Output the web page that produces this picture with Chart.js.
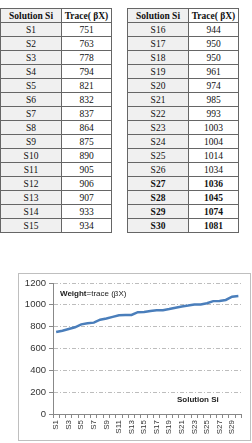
<!DOCTYPE html>
<html>
<head>
<meta charset="utf-8">
<script src="https://cdn.jsdelivr.net/npm/chart.js@4/dist/chart.umd.min.js"></script>
<style>
  body { margin: 0; width: 252px; height: 443px; background: #fff; position: relative; overflow: hidden; }
  table { position: absolute; top: 8px; border-collapse: collapse; font-family: "Liberation Serif", serif; font-size: 9.5px; color: #111; }
  td, th { border: 1px solid #666; height: 13px; padding: 0; text-align: center; line-height: 12px; }
  th { font-weight: bold; }
  .c1 { background: #f0f0f0; }
  .b { font-weight: bold; }
  #frame { position: absolute; left: 18px; top: 273px; width: 231px; height: 166px; border: 1px solid #bfbfbf; }
  #wrap { position: absolute; left: 0; top: 0; width: 231px; height: 166px; }
  .note { position: absolute; font-family: "Liberation Sans", sans-serif; font-size: 8px; color: #222; white-space: nowrap; }
</style>
</head>
<body>
<table id="t1" style="left:0px"></table>
<table id="t2" style="left:127px"></table>
<div id="frame">
  <div id="wrap"><canvas id="c"></canvas></div>
  <div class="note" style="left:41px; top:15px"><b>Weight</b>=trace (βX)</div>
  <div class="note" style="left:158px; top:121px"><b>Solution Si</b></div>
</div>
<script>
// valeurs lues dans le tableau
const solutions = ['S1','S2','S3','S4','S5','S6','S7','S8','S9','S10','S11','S12','S13','S14','S15',
                   'S16','S17','S18','S19','S20','S21','S22','S23','S24','S25','S26','S27','S28','S29','S30'];
const traces = [751,763,778,794,821,832,837,864,875,890,905,906,907,933,934,
                944,950,950,961,974,985,993,1003,1004,1014,1034,1036,1045,1074,1081];
const boldRows = ['S27','S28','S29','S30'];
const yTicks = [0,200,400,600,800,1000,1200];

// tableaux
function buildTable(id, from, to) {
    const t = document.getElementById(id);
    let html = '<tr><th class="c1" style="width:60px">Solution Si</th><th style="width:49px">Trace( βX)</th></tr>';
    for (let i = from; i < to; i++) {
        const cls = boldRows.includes(solutions[i]) ? ' b' : '';
        html += '<tr><td class="c1' + cls + '">' + solutions[i] + '</td><td class="' + cls + '">' + traces[i] + '</td></tr>';
    }
    t.innerHTML = html;
}
buildTable('t1', 0, 15);
buildTable('t2', 15, 30);

// graphique
const ctx = document.getElementById('c').getContext('2d');
new Chart(ctx, {
    type: 'line',
    data: {
        labels: solutions,
        datasets: [{
            data: traces,
            borderColor: '#4a7ebb',
            borderWidth: 2.5,
            pointRadius: 0,
            tension: 0
        }]
    },
    options: {
        responsive: true,
        maintainAspectRatio: false,
        animation: false,
        layout: { padding: { top: 9, right: 2, left: 0, bottom: 0 } },
        plugins: { legend: { display: false }, tooltip: { enabled: false } },
        scales: {
            x: {
                offset: true,
                grid: { drawOnChartArea: false, drawTicks: true, tickLength: 4, color: '#888', offset: true },
                border: { color: '#888' },
                afterFit: s => { s.height = 26; },
                ticks: {
                    autoSkip: false, maxRotation: 90, minRotation: 90, padding: 2,
                    font: { family: 'Liberation Sans', size: 8 }, color: '#333',
                    callback: function(v, i) { return i % 2 === 0 ? solutions[i] : ''; }
                }
            },
            y: {
                min: 0, max: 1200,
                afterBuildTicks: s => { s.ticks = yTicks.map(v => ({ value: v })); },
                afterFit: s => { s.width = 34; },
                grid: { color: '#bdbdbd', tickLength: 4, tickColor: '#888', lineWidth: 1 },
                // pointillés type Excel
                border: { color: '#888', dash: [4, 2, 1, 2] },
                ticks: {
                    padding: 3, font: { family: 'Liberation Sans', size: 9.5 }, color: '#333',
                    callback: v => String(v)
                }
            }
        }
    }
});
</script>
</body>
</html>
